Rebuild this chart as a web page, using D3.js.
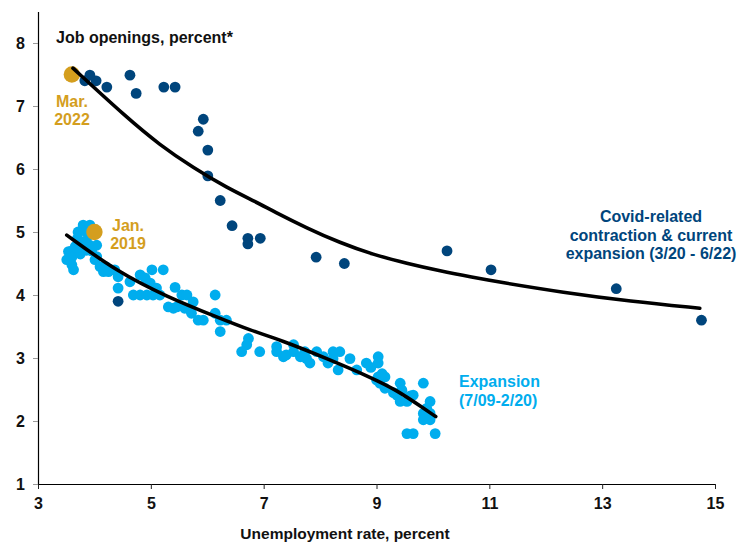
<!DOCTYPE html>
<html>
<head>
<meta charset="utf-8">
<script src="https://cdn.jsdelivr.net/npm/d3@7"></script>
<style>
  html, body { margin: 0; padding: 0; background: #fff; }
  svg { display: block; font-family: "Liberation Sans", Arial, Helvetica, sans-serif; }
</style>
</head>
<body>
<svg id="chart" width="737" height="544"></svg>
<script>
// ---- Data ----
// Expansion 7/09 - 2/20 : unemployment rate (%), job openings rate (%)
const expansionUnemp = [3.80,3.92,3.71,3.74,3.83,3.66,3.54,3.51,3.60,3.63,3.86,4.04,4.04,4.01,3.70,3.60,3.90,3.80,3.90,3.60,3.85,
  4.10,4.16,4.25,4.36,4.42,4.42,4.63,4.81,4.90,5.02,5.22,4.99,5.10,4.69,4.81,4.93,5.04,5.16,5.31,5.46,5.43,5.55,5.64,5.75,5.40,
  5.60,5.72,5.84,5.93,6.14,6.14,6.23,6.34,6.23,6.73,6.70,6.61,6.93,7.23,7.23,7.35,7.53,7.53,7.65,7.73,7.76,7.82,7.94,8.06,8.14,
  8.23,8.35,8.23,8.32,8.53,8.65,8.82,9.03,9.03,9.03,9.15,9.06,9.15,9.42,9.45,9.36,9.42,9.54,9.65,9.83,9.95,9.89,9.83,9.83,9.95,
  9.54,9.65,10.04,9.95,7.40,9.10,9.30,9.60,8.90,9.00,4.30,4.20,3.95,3.75];
const expansionOpenings = [5.11,5.11,5.00,4.85,4.85,4.77,4.69,4.56,4.48,4.40,4.71,4.79,4.61,4.56,4.90,4.70,4.95,4.75,4.80,4.60,5.00,
  4.45,4.37,4.37,4.40,4.29,4.11,4.21,4.32,4.27,4.40,4.40,4.19,4.11,4.00,4.00,4.00,4.00,4.00,3.81,3.81,4.12,4.00,4.00,3.89,3.79,
  3.79,3.71,3.60,3.60,4.00,3.71,3.60,3.60,3.42,3.31,3.21,3.10,3.10,3.18,3.10,3.02,3.21,3.10,3.02,3.10,2.99,2.92,3.10,3.02,2.92,
  3.10,3.10,2.99,2.81,2.99,2.81,2.92,3.02,2.92,2.70,2.70,2.60,2.52,2.60,2.49,2.41,2.31,2.31,2.41,2.60,2.31,2.20,2.12,2.02,2.02,
  1.80,1.80,1.80,2.12,3.05,2.75,2.45,2.40,2.85,2.65,4.40,4.45,4.70,4.65];

// Covid-related contraction & current expansion 3/20 - 6/22
const covidUnemp    = [4.42,14.76,13.25,11.03,10.25,8.43,7.93,6.94,6.72,6.72,6.44,6.23,6.01,6.01,5.93,5.84,5.43,5.23,4.74,4.63,4.22,4.03,3.92,3.83];
const covidOpenings = [3.90,3.60,4.10,4.40,4.70,4.50,4.60,4.90,4.90,4.81,5.10,5.50,5.89,6.30,6.79,6.60,7.30,7.30,7.20,7.49,7.30,7.40,7.49,7.40];

// Highlighted months
const highlightLabels   = [["Mar.", "2022"], ["Jan.", "2019"]];
const highlightUnemp    = [3.6, 4.0];
const highlightOpenings = [7.5, 5.0];

// Trend lines
const expansionFitUnemp = [3.51,4.40,5.29,6.17,6.76,7.29,8.18,8.88,9.36,9.82,10.05];
const expansionFitOpen  = [4.95,4.37,3.97,3.65,3.44,3.29,2.97,2.70,2.49,2.21,2.07];
const covidFitUnemp = [3.62,4.58,5.16,5.75,6.35,6.88,7.17,7.77,8.35,8.94,9.54,10.13,10.71,11.14,12.31,13.5,14.73];
const covidFitOpen  = [7.60,6.81,6.38,6.02,5.70,5.47,5.33,5.06,4.83,4.64,4.50,4.38,4.28,4.21,4.04,3.90,3.79];

// Axis ticks and labels
const xTicks = [3,5,7,9,11,13,15];
const yTicks = [1,2,3,4,5,6,7,8];
const yTitle = "Job openings, percent*";
const xTitle = "Unemployment rate, percent";
const covidLabel = ["Covid-related", "contraction & current", "expansion (3/20 - 6/22)"];
const expansionLabel = ["Expansion", "(7/09-2/20)"];

// ---- Styles ----
const DARK = "#00457C", LIGHT = "#00ADEE", GOLD = "#D49E1E";

const svg = d3.select("#chart");
const x = d3.scaleLinear().domain([3, 15]).range([38, 715]);
const y = d3.scaleLinear().domain([1, 8.5]).range([484, 11.5]);

// Axes
const xAxis = svg.append("g").attr("transform", `translate(0,${y(1)})`)
  .call(d3.axisBottom(x).tickValues(xTicks).tickSize(5).tickSizeOuter(0).tickPadding(9).tickFormat(d3.format("d")));
const yAxis = svg.append("g").attr("transform", `translate(${x(3)},0)`)
  .call(d3.axisLeft(y).tickValues(yTicks).tickSize(5).tickSizeOuter(0).tickPadding(8).tickFormat(d3.format("d")));
[xAxis, yAxis].forEach(g => {
  g.select(".domain").attr("stroke", "#000").attr("stroke-width", 1.2);
  g.selectAll("text").attr("font-size", 16).attr("font-weight", "bold").attr("fill", "#111")
    .attr("font-family", "'Liberation Sans', Arial, sans-serif");
});
xAxis.selectAll(".tick line").attr("stroke", "#222");
yAxis.selectAll(".tick line").attr("stroke", "#999");

// Points
const expData = expansionUnemp.map((u, i) => ({u, o: expansionOpenings[i]}));
const covData = covidUnemp.map((u, i) => ({u, o: covidOpenings[i]}));
svg.append("g").selectAll("circle").data(expData).join("circle")
  .attr("cx", d => x(d.u)).attr("cy", d => y(d.o)).attr("r", 5.4).attr("fill", LIGHT);
svg.append("g").selectAll("circle").data(covData).join("circle")
  .attr("cx", d => x(d.u)).attr("cy", d => y(d.o)).attr("r", 5.4).attr("fill", DARK);
const hiData = highlightUnemp.map((u, i) => ({u, o: highlightOpenings[i], label: highlightLabels[i]}));
svg.append("g").selectAll("circle").data(hiData).join("circle")
  .attr("cx", d => x(d.u)).attr("cy", d => y(d.o)).attr("r", 8.2).attr("fill", GOLD);

// Trend lines
const line = d3.line().x(d => x(d[0])).y(d => y(d[1])).curve(d3.curveBasis);
svg.append("path").datum(expansionFitUnemp.map((u, i) => [u, expansionFitOpen[i]]))
  .attr("d", line).attr("fill", "none").attr("stroke", "#000").attr("stroke-width", 3.6).attr("stroke-linecap", "round");
svg.append("path").datum(covidFitUnemp.map((u, i) => [u, covidFitOpen[i]]))
  .attr("d", line).attr("fill", "none").attr("stroke", "#000").attr("stroke-width", 3.6).attr("stroke-linecap", "round");

// Text
function multiline(lines, xPos, yPos, anchor, color, lh) {
  const t = svg.append("text").attr("x", xPos).attr("y", yPos).attr("text-anchor", anchor)
    .attr("fill", color).attr("font-size", 16).attr("font-weight", "bold");
  lines.forEach((s, i) => t.append("tspan").attr("x", xPos).attr("dy", i === 0 ? 0 : lh).text(s));
}
svg.append("text").attr("x", 56).attr("y", 43).attr("font-size", 16).attr("font-weight", "bold")
  .attr("fill", "#111").text(yTitle);
svg.append("text").attr("x", 345).attr("y", 539).attr("text-anchor", "middle").attr("font-size", 15.5)
  .attr("font-weight", "bold").attr("fill", "#111").text(xTitle);

multiline(highlightLabels[0], 72, 107, "middle", GOLD, 18);
multiline(highlightLabels[1], 128, 231, "middle", GOLD, 18);
multiline(covidLabel, 651, 222, "middle", DARK, 18.5);
multiline(expansionLabel, 459, 387, "start", LIGHT, 19);
</script>
</body>
</html>
